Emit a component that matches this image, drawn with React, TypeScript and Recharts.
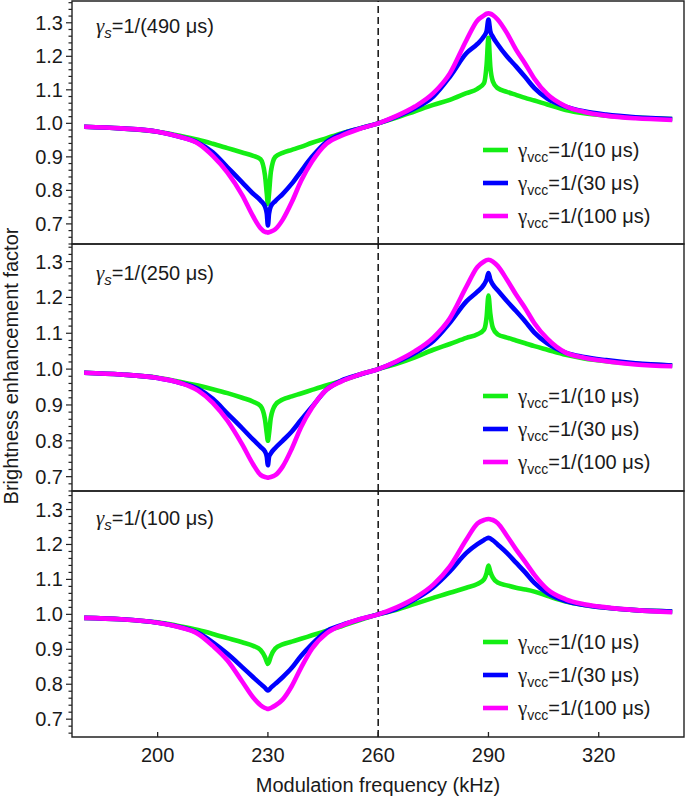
import React from 'react';
import { LineChart, Line, XAxis, YAxis, ReferenceLine, ReferenceArea } from 'recharts';

// ---------- data ----------
const FREQ = [180, 190, 200, 206, 211, 215, 219, 223, 226, 228, 229.2, 229.7, 230, 230.3, 230.8, 232, 234, 236.5, 239, 242, 246, 250, 255, 260, 265, 270, 275, 279.5, 284, 287, 288.8, 289.5, 290, 290.5, 291.2, 292.5, 295, 297.5, 300, 302.5, 306, 311, 316, 322, 330, 340];

// panel 1: gamma_s = 1/(490 us)
const P1_G = [0.99, 0.985, 0.975, 0.963, 0.951, 0.939, 0.926, 0.913, 0.903, 0.893, 0.845, 0.79, 0.76, 0.79, 0.855, 0.9, 0.912, 0.921, 0.93, 0.942, 0.956, 0.97, 0.985, 1.0, 1.017, 1.036, 1.055, 1.07, 1.09, 1.103, 1.12, 1.175, 1.255, 1.17, 1.125, 1.105, 1.094, 1.085, 1.076, 1.068, 1.056, 1.04, 1.03, 1.023, 1.017, 1.013];
const P1_B = [0.99, 0.985, 0.975, 0.96, 0.942, 0.914, 0.869, 0.824, 0.79, 0.77, 0.752, 0.73, 0.695, 0.73, 0.752, 0.768, 0.789, 0.82, 0.857, 0.9, 0.945, 0.968, 0.985, 1.0, 1.02, 1.045, 1.08, 1.139, 1.209, 1.237, 1.26, 1.275, 1.31, 1.275, 1.258, 1.236, 1.2, 1.17, 1.138, 1.105, 1.074, 1.05, 1.036, 1.026, 1.018, 1.013];
const P1_M = [0.99, 0.985, 0.975, 0.96, 0.94, 0.903, 0.853, 0.786, 0.722, 0.687, 0.676, 0.675, 0.674, 0.675, 0.677, 0.684, 0.712, 0.765, 0.828, 0.886, 0.94, 0.963, 0.984, 1.0, 1.022, 1.05, 1.09, 1.149, 1.248, 1.307, 1.322, 1.327, 1.328, 1.327, 1.323, 1.31, 1.27, 1.22, 1.178, 1.133, 1.087, 1.051, 1.034, 1.023, 1.015, 1.01];

// panel 2: gamma_s = 1/(250 us)
const P2_G = [0.99, 0.985, 0.976, 0.965, 0.954, 0.944, 0.933, 0.92, 0.909, 0.897, 0.86, 0.82, 0.8, 0.82, 0.865, 0.9, 0.915, 0.924, 0.932, 0.942, 0.955, 0.967, 0.985, 1.0, 1.015, 1.033, 1.054, 1.07, 1.087, 1.097, 1.11, 1.145, 1.205, 1.155, 1.115, 1.097, 1.088, 1.08, 1.072, 1.064, 1.054, 1.04, 1.03, 1.022, 1.015, 1.01];
const P2_B = [0.99, 0.985, 0.975, 0.962, 0.945, 0.917, 0.876, 0.835, 0.803, 0.783, 0.77, 0.755, 0.732, 0.755, 0.765, 0.78, 0.8, 0.826, 0.858, 0.895, 0.943, 0.968, 0.985, 1.0, 1.02, 1.045, 1.078, 1.129, 1.189, 1.216, 1.236, 1.25, 1.268, 1.25, 1.236, 1.22, 1.19, 1.162, 1.133, 1.102, 1.072, 1.046, 1.034, 1.025, 1.016, 1.01];
const P2_M = [0.99, 0.985, 0.975, 0.962, 0.94, 0.906, 0.856, 0.79, 0.734, 0.705, 0.699, 0.698, 0.697, 0.698, 0.699, 0.704, 0.728, 0.778, 0.838, 0.892, 0.943, 0.966, 0.985, 1.0, 1.022, 1.05, 1.088, 1.142, 1.23, 1.285, 1.3, 1.304, 1.305, 1.304, 1.3, 1.288, 1.25, 1.208, 1.17, 1.128, 1.085, 1.046, 1.032, 1.022, 1.013, 1.008];

// panel 3: gamma_s = 1/(100 us)
const P3_G = [0.99, 0.986, 0.977, 0.966, 0.955, 0.944, 0.932, 0.92, 0.91, 0.898, 0.878, 0.864, 0.858, 0.864, 0.88, 0.902, 0.914, 0.922, 0.93, 0.94, 0.953, 0.966, 0.984, 1.0, 1.013, 1.03, 1.047, 1.062, 1.076, 1.087, 1.1, 1.118, 1.14, 1.122, 1.105, 1.091, 1.083, 1.076, 1.071, 1.065, 1.053, 1.037, 1.027, 1.019, 1.012, 1.008];
const P3_B = [0.99, 0.986, 0.976, 0.964, 0.947, 0.92, 0.887, 0.849, 0.82, 0.801, 0.79, 0.784, 0.782, 0.784, 0.79, 0.801, 0.82, 0.847, 0.881, 0.915, 0.952, 0.969, 0.986, 1.0, 1.016, 1.043, 1.078, 1.123, 1.176, 1.201, 1.213, 1.217, 1.219, 1.217, 1.212, 1.2, 1.176, 1.148, 1.12, 1.09, 1.061, 1.038, 1.027, 1.019, 1.012, 1.008];
const P3_M = [0.99, 0.986, 0.976, 0.963, 0.944, 0.91, 0.868, 0.808, 0.762, 0.74, 0.732, 0.73, 0.729, 0.73, 0.732, 0.739, 0.756, 0.795, 0.847, 0.902, 0.946, 0.968, 0.986, 1.0, 1.02, 1.047, 1.085, 1.137, 1.214, 1.26, 1.27, 1.272, 1.273, 1.272, 1.27, 1.261, 1.225, 1.186, 1.15, 1.113, 1.072, 1.043, 1.029, 1.02, 1.012, 1.006];

const GAMMA_S_LABELS = ['490', '250', '100'];
const VCC_LABELS = ['10', '30', '100'];
const SERIES_KEYS = ['g', 'b', 'm'];
const COLORS = ['#14ee14', '#0000ff', '#ff00ff'];

const X_TICKS = [200, 230, 260, 290, 320];
const Y_MAJOR = [0.7, 0.8, 0.9, 1.0, 1.1, 1.2, 1.3];
const Y_ALL = [0.64, 0.66, 0.68, 0.7, 0.72, 0.74, 0.76, 0.78, 0.8, 0.82, 0.84, 0.86, 0.88, 0.9, 0.92, 0.94, 0.96, 0.98, 1.0, 1.02, 1.04, 1.06, 1.08, 1.1, 1.12, 1.14, 1.16, 1.18, 1.2, 1.22, 1.24, 1.26, 1.28, 1.3, 1.32, 1.34, 1.36];
const X_DOMAIN = [176.7, 343.2];
const DASH_X = 260;

// ---------- layout ----------
const FONT = '"Liberation Sans", Arial, Helvetica, sans-serif';
const SERIF = '"Liberation Serif", "DejaVu Serif", serif';
const W = 685;
const H = 798;
const TXT = '#1a1a1a';

const PANELS = [
  { series: [P1_G, P1_B, P1_M], domain: [0.64, 1.365], top: 0, height: 250, mTop: 1, mBottom: 6, xh: 0, labels: false, labelY: 33, legendY: [150, 183, 216] },
  { series: [P2_G, P2_B, P2_M], domain: [0.66, 1.349], top: 238, height: 259, mTop: 6, mBottom: 6, xh: 0, labels: false, labelY: 280, legendY: [396, 429, 462] },
  { series: [P3_G, P3_B, P3_M], domain: [0.649, 1.353], top: 485, height: 313, mTop: 6, mBottom: 31, xh: 30, labels: true, labelY: 525, legendY: [642, 675, 708] },
];

const makeXTick = (showLabels: boolean) => (props: any) => {
  const { x, y, payload } = props;
  return (
    <g>
      <line x1={x} x2={x} y1={y} y2={y - 5} stroke="#222" strokeWidth={1.3} />
      {showLabels && (
        <text x={x} y={y + 25} textAnchor="middle" fontSize={20} fontFamily={FONT} fill={TXT}>
          {payload.value}
        </text>
      )}
    </g>
  );
};

const YTick = (props: any) => {
  const { x, y, payload } = props;
  const v = payload.value;
  const major = Y_MAJOR.some((m) => Math.abs(m - v) < 1e-6);
  return (
    <g>
      <line x1={x - (major ? 6 : 3.5)} x2={x} y1={y} y2={y} stroke="#222" strokeWidth={1.2} />
      {major && (
        <text x={x - 9} y={y} dy={7} textAnchor="end" fontSize={20} fontFamily={FONT} fill={TXT}>
          {v.toFixed(1)}
        </text>
      )}
    </g>
  );
};

function Panel({ p }: { p: any }) {
  const data = FREQ.map((f, i) => ({ f, g: p.series[0][i], b: p.series[1][i], m: p.series[2][i] }));
  const ticks = Y_ALL.filter((t) => t >= p.domain[0] - 1e-9 && t <= p.domain[1] + 1e-9);
  return (
    <div style={{ position: 'absolute', left: 0, top: p.top, width: W, height: p.height }}>
      <LineChart width={W} height={p.height} data={data} margin={{ top: p.mTop, right: 1, bottom: p.mBottom, left: 0 }}>
        <XAxis
          dataKey="f"
          type="number"
          domain={X_DOMAIN}
          allowDataOverflow
          ticks={X_TICKS}
          interval={0}
          height={p.xh}
          tickLine={false}
          axisLine={false}
          tickSize={0}
          tickMargin={0}
          tick={makeXTick(p.labels)}
        />
        <YAxis
          type="number"
          domain={p.domain}
          allowDataOverflow
          ticks={ticks}
          interval={0}
          width={72}
          tickLine={false}
          axisLine={false}
          tickSize={0}
          tickMargin={0}
          tick={<YTick />}
        />
        <ReferenceArea
          x1={X_DOMAIN[0]}
          x2={X_DOMAIN[1]}
          y1={p.domain[0]}
          y2={p.domain[1]}
          fill="none"
          fillOpacity={0}
          stroke="#222"
          strokeWidth={1.4}
          ifOverflow="visible"
        />
        <ReferenceLine x={DASH_X} stroke="#111" strokeWidth={1.5} strokeDasharray="7 4" ifOverflow="visible" />
        {SERIES_KEYS.map((k, i) => (
          <Line
            key={k}
            dataKey={k}
            type="monotone"
            stroke={COLORS[i]}
            strokeWidth={4.6}
            dot={false}
            activeDot={false}
            isAnimationActive={false}
          />
        ))}
      </LineChart>
    </div>
  );
}

export default function App() {
  return (
    <div style={{ position: 'absolute', left: 0, top: 0, width: W, height: H, background: '#fff', overflow: 'hidden' }}>
      {PANELS.map((p, i) => (
        <Panel key={i} p={p} />
      ))}
      <svg width={W} height={H} style={{ position: 'absolute', left: 0, top: 0, pointerEvents: 'none' }}>
        <text
          transform="translate(18, 366) rotate(-90)"
          textAnchor="middle"
          fontSize={20}
          fontFamily={FONT}
          fill={TXT}
        >
          Brightness enhancement factor
        </text>
        <text x={378} y={792} textAnchor="middle" fontSize={20} fontFamily={FONT} fill={TXT}>
          Modulation frequency (kHz)
        </text>
        {PANELS.map((p, pi) => (
          <g key={pi}>
            <text x={96} y={p.labelY} fontSize={20} fontFamily={FONT} fill={TXT}>
              <tspan fontFamily={SERIF} fontStyle="italic" fontSize={21}>γ</tspan>
              <tspan fontStyle="italic" fontSize={15} dy={5}>s</tspan>
              <tspan dy={-5}>{`=1/(${GAMMA_S_LABELS[pi]} μs)`}</tspan>
            </text>
            {VCC_LABELS.map((lab, si) => (
              <g key={si}>
                <line x1={483} x2={508} y1={p.legendY[si]} y2={p.legendY[si]} stroke={COLORS[si]} strokeWidth={4.6} />
                <text x={518} y={p.legendY[si] + 7} fontSize={20} fontFamily={FONT} fill={TXT}>
                  <tspan fontFamily={SERIF} fontSize={21}>γ</tspan>
                  <tspan fontSize={14} dy={5}>vcc</tspan>
                  <tspan dy={-5}>{`=1/(${lab} μs)`}</tspan>
                </text>
              </g>
            ))}
          </g>
        ))}
      </svg>
    </div>
  );
}
